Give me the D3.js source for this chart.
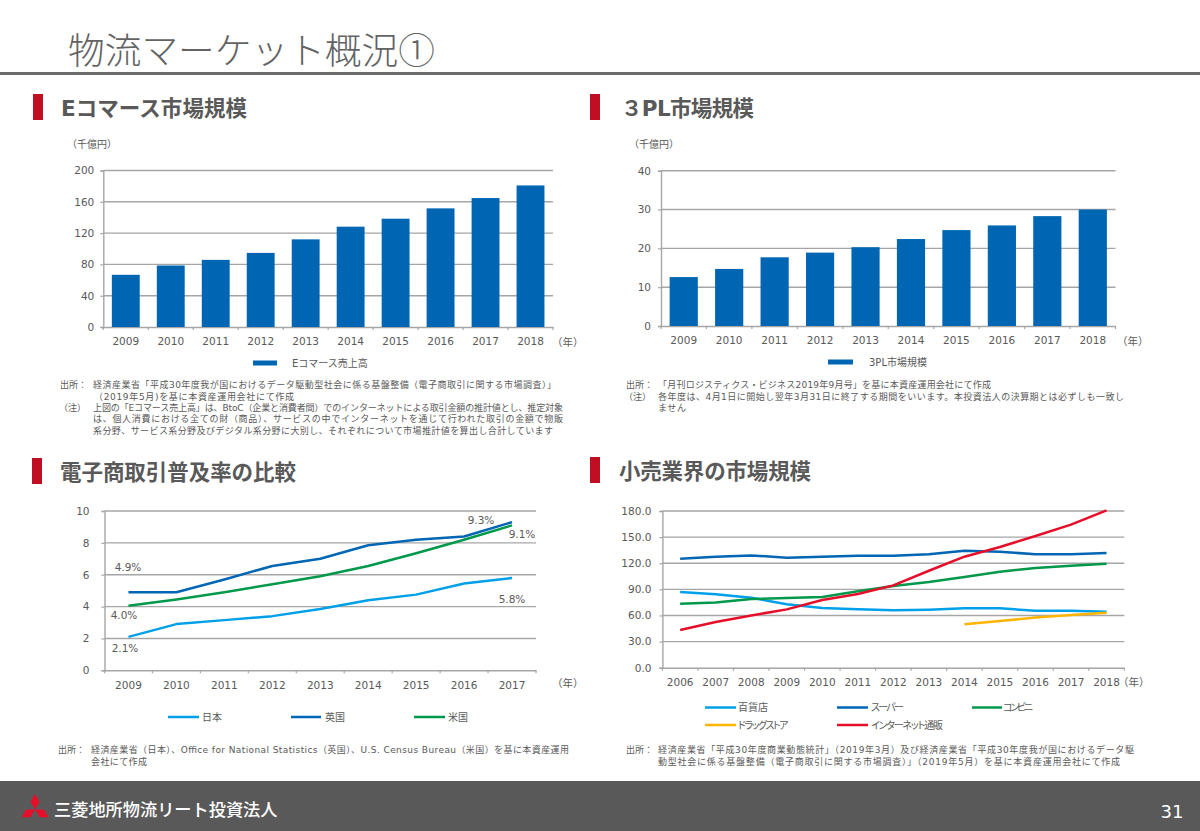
<!DOCTYPE html>
<html lang="ja">
<head>
<meta charset="utf-8">
<title>物流マーケット概況①</title>
<script src="https://cdn.jsdelivr.net/npm/d3@7"></script>
<style>
  html, body { margin: 0; padding: 0; background: #fff; }
  svg { display: block; }
  text { font-family: "DejaVu Sans", "Noto Sans CJK JP", sans-serif; fill: #595959; }
  .palt { font-feature-settings: "palt"; }
</style>
</head>
<body>
<svg id="page" width="1200" height="831"></svg>

<script>
var ecYears = [2009, 2010, 2011, 2012, 2013, 2014, 2015, 2016, 2017, 2018];
var ecSales = [66.7, 78.6, 85.8, 94.7, 112.0, 128.2, 138.4, 151.6, 164.8, 180.9];
var ecTicks = [0, 40, 80, 120, 160, 200];

var plYears = [2009, 2010, 2011, 2012, 2013, 2014, 2015, 2016, 2017, 2018];
var plSales = [12.6, 14.7, 17.7, 18.9, 20.3, 22.4, 24.7, 25.9, 28.3, 30.0];
var plTicks = [0, 10, 20, 30, 40];

var rateYears = [2009, 2010, 2011, 2012, 2013, 2014, 2015, 2016, 2017];
var rateJapan = [2.1, 2.9, 3.15, 3.4, 3.85, 4.4, 4.75, 5.45, 5.8];
var rateUK = [4.9, 4.9, 5.7, 6.55, 7.0, 7.85, 8.2, 8.4, 9.3];
var rateUS = [4.05, 4.45, 4.9, 5.4, 5.9, 6.55, 7.35, 8.2, 9.1];
var rateTicks = [0, 2, 4, 6, 8, 10];

var retailYears = [2006, 2007, 2008, 2009, 2010, 2011, 2012, 2013, 2014, 2015, 2016, 2017, 2018];
var retailDept = [86.9, 84.3, 80.4, 72.8, 68.6, 67.0, 65.9, 66.6, 68.2, 68.2, 65.5, 65.5, 64.3];
var retailSuper = [125.2, 127.5, 129.0, 126.4, 127.5, 128.7, 128.7, 130.2, 134.4, 133.3, 130.2, 130.2, 131.7];
var retailConv = [73.5, 75.0, 78.9, 80.0, 81.2, 87.7, 93.8, 98.4, 104.2, 110.3, 114.5, 117.2, 119.5];
var retailDrug = [null, null, null, null, null, null, null, null, 49.8, 53.6, 57.8, 60.5, 63.2];
var retailNet = [43.3, 52.5, 60.0, 67.0, 77.7, 84.6, 94.6, 111.4, 127.5, 138.6, 151.3, 164.3, 180.8];
var retailTicks = [0, 30, 60, 90, 120, 150, 180];

var BLUE = "#0066b3", SKY = "#00a0e9", GREEN = "#00984a", AMBER = "#ffb500", RED = "#e60f2a";
var INK = "#595959", GRID = "#a6a6a6";

var svg = d3.select("#page");

function label(x, y, str, size, opt) {
  opt = opt || {};
  var t = svg.append("text")
    .attr("x", x).attr("y", y)
    .attr("dominant-baseline", "central")
    .attr("font-size", size)
    .attr("text-anchor", opt.anchor || "start")
    .text(str);
  if (opt.weight) t.attr("font-weight", opt.weight);
  if (opt.fill) t.style("fill", opt.fill);
  if (opt.family) t.style("font-family", opt.family);
  if (opt.palt) t.attr("class", "palt");
  if (opt.width) t.attr("textLength", opt.width);
  return t;
}

// grid, axes and labels shared by all four charts
function frame(x0, x1, yTop, yBase, maxVal, ticks, years, pad, fmt, yPad) {
  var g = svg.append("g");
  var y = d3.scaleLinear().domain([0, maxVal]).range([yBase, yTop]);
  var band = d3.scaleBand().domain(years).range([x0, x1]);

  g.selectAll("line.grid").data(ticks.filter(function(d) { return d > 0; })).enter()
    .append("line")
    .attr("x1", x0).attr("x2", x1)
    .attr("y1", y).attr("y2", y)
    .attr("stroke", GRID).attr("stroke-width", 1.4);

  var yAxis = d3.axisLeft(y).tickValues(ticks).tickSize(3).tickPadding(yPad).tickFormat(fmt);
  var ya = g.append("g").attr("transform", "translate(" + x0 + ",0)").call(yAxis);

  var xAxis = d3.axisBottom(band).tickSize(0).tickPadding(pad);
  var xa = g.append("g").attr("transform", "translate(0," + yBase + ")").call(xAxis);

  // ticks sit on the band edges, not the centres
  var edges = years.map(function(d) { return band(d); }).concat([x1]);
  xa.selectAll("line.edge").data(edges).enter().append("line")
    .attr("x1", function(d) { return d; }).attr("x2", function(d) { return d; })
    .attr("y1", 0).attr("y2", 3)
    .attr("stroke", GRID).attr("stroke-width", 1.2);

  [ya, xa].forEach(function(a) {
    a.selectAll(".domain").attr("stroke", GRID).attr("stroke-width", 1.4);
    a.selectAll(".tick line").attr("stroke", GRID).attr("stroke-width", 1.2);
    a.selectAll("text").attr("font-size", 10.5).attr("font-family", null);
  });
  return { y: y, band: band };
}

function bars(f, years, values) {
  var inner = d3.scaleBand().domain(years).range(f.band.range()).paddingInner(0.38).paddingOuter(0.19);
  svg.append("g").selectAll("rect").data(values).enter().append("rect")
    .attr("x", function(d, i) { return inner(years[i]); })
    .attr("width", inner.bandwidth())
    .attr("y", function(d) { return f.y(d); })
    .attr("height", function(d) { return f.y(0) - f.y(d); })
    .attr("fill", BLUE);
}

function series(f, years, values, color) {
  var x = d3.scalePoint().domain(years).range(f.band.range()).padding(0.5);
  var line = d3.line()
    .defined(function(d) { return d !== null; })
    .x(function(d, i) { return x(years[i]); })
    .y(function(d) { return f.y(d); });
  svg.append("path").datum(values)
    .attr("d", line)
    .attr("fill", "none")
    .attr("stroke", color)
    .attr("stroke-linejoin", "round")
    .attr("stroke-width", 2.5);
}

function swatch(x0, x1, y, color, h) {
  svg.append("line").attr("x1", x0).attr("x2", x1).attr("y1", y).attr("y2", y)
    .attr("stroke", color).attr("stroke-width", h);
}

function heading(markX, y, textX, str, w) {
  svg.append("rect").attr("x", markX).attr("y", y - 13).attr("width", 10).attr("height", 26).attr("fill", "#c00f23");
  label(textX, y + 1, str, 21.5, { weight: 700, width: w });
}

// page header
label(68, 48, "物流マーケット概況①", 36.7, { family: "'Noto Sans CJK JP', sans-serif", weight: 300, fill: "#636363" });
svg.append("rect").attr("x", 0).attr("y", 72).attr("width", 1200).attr("height", 3).attr("fill", "#6b6b6b");

// footer band
svg.append("rect").attr("x", 0).attr("y", 781).attr("width", 1200).attr("height", 50).attr("fill", INK);
var s = 9, cx = 35, cy = 811, r3 = Math.sqrt(3) / 2;
[[[0, 0], [-s / 2, -s * r3], [0, -2 * s * r3], [s / 2, -s * r3]],
 [[0, 0], [s, 0], [s * 1.5, s * r3], [s / 2, s * r3]],
 [[0, 0], [-s, 0], [-s * 1.5, s * r3], [-s / 2, s * r3]]].forEach(function(p) {
  svg.append("polygon")
    .attr("points", p.map(function(q) { return (cx + q[0]) + "," + (cy + q[1] - 1.5); }).join(" "))
    .attr("fill", "#e60f2a");
});
label(54, 810, "三菱地所物流リート投資法人", 17.2, { fill: "#fff", weight: 500 });
label(1172, 811, "31", 18, { anchor: "middle", fill: "#fff" });

// Eコマース市場規模
heading(33, 107, 61, "Eコマース市場規模", 186);
label(67, 144, "（千億円）", 10);
var f1 = frame(103.3, 553, 170.5, 327, 200, ecTicks, ecYears, 11, d3.format("d"), 6);
bars(f1, ecYears, ecSales);
label(552, 342, "（年）", 10.5);
swatch(253, 277, 363, BLUE, 5);
label(292, 363, "Eコマース売上高", 10);
label(60, 385, "出所：", 9);
label(93, 385, "経済産業省「平成30年度我が国におけるデータ駆動型社会に係る基盤整備（電子商取引に関する市場調査）」", 9, { width: 463 });
label(94, 396.5, "（2019年5月)を基に本資産運用会社にて作成", 9, { width: 200 });
label(59, 408, "（注）", 9);
label(93, 408, "上図の「Eコマース売上高」は、BtoC（企業と消費者間）でのインターネットによる取引金額の推計値とし、推定対象", 9, { width: 470 });
label(93, 419, "は、個人消費における全ての財（商品）、サービスの中でインターネットを通じて行われた取引の金額で物販", 9, { width: 470 });
label(93, 430.5, "系分野、サービス系分野及びデジタル系分野に大別し、それぞれについて市場推計値を算出し合計しています", 9, { width: 460 });

// 3PL市場規模
heading(590, 107, 621, "３PL市場規模", 133);
label(629, 144, "（千億円）", 10);
var f2 = frame(661, 1115.5, 170.7, 326, 40, plTicks, plYears, 11, d3.format("d"), 7);
bars(f2, plYears, plSales);
label(1117, 341, "（年）", 10.5);
swatch(828, 853, 362, BLUE, 5);
label(869, 362, "3PL市場規模", 10);
label(626, 385, "出所：", 9);
label(658, 385, "「月刊ロジスティクス・ビジネス2019年9月号」を基に本資産運用会社にて作成", 9, { width: 333 });
label(624, 397, "（注）", 9);
label(658, 397, "各年度は、4月1日に開始し翌年3月31日に終了する期間をいいます。本投資法人の決算期とは必ずしも一致し", 9, { width: 466 });
label(658, 408, "ません", 9, { width: 28 });

// 電子商取引普及率の比較
heading(32, 471, 60, "電子商取引普及率の比較", 236);
var f3 = frame(104.5, 536, 511, 670.3, 10, rateTicks, rateYears, 11, d3.format("d"), 12);
series(f3, rateYears, rateJapan, SKY);
series(f3, rateYears, rateUS, GREEN);
series(f3, rateYears, rateUK, BLUE);
label(552, 683, "（年）", 10.5);
label(481, 520, "9.3%", 10.5, { anchor: "middle" });
label(522, 534, "9.1%", 10.5, { anchor: "middle" });
label(128, 567, "4.9%", 10.5, { anchor: "middle" });
label(124, 615, "4.0%", 10.5, { anchor: "middle" });
label(125, 648, "2.1%", 10.5, { anchor: "middle" });
label(512, 598.5, "5.8%", 10.5, { anchor: "middle" });
swatch(168, 199, 717, SKY, 2.5);
label(202, 717, "日本", 10);
swatch(291, 321, 717, BLUE, 2.5);
label(325, 717, "英国", 10);
swatch(414, 445, 717, GREEN, 2.5);
label(448, 717, "米国", 10);
label(58, 750, "出所：", 9);
label(91, 750, "経済産業省（日本）、Office for National Statistics（英国）、U.S. Census Bureau（米国）を基に本資産運用", 9, { width: 478 });
label(91, 761.5, "会社にて作成", 9, { width: 56 });

// 小売業界の市場規模
heading(590, 470, 619, "小売業界の市場規模", 192);
var f4 = frame(662.4, 1124.3, 511, 667.7, 180, retailTicks, retailYears, 11, d3.format(".1f"), 8);
series(f4, retailYears, retailDept, SKY);
series(f4, retailYears, retailSuper, BLUE);
series(f4, retailYears, retailConv, GREEN);
series(f4, retailYears, retailDrug, AMBER);
series(f4, retailYears, retailNet, RED);
label(1118, 682, "（年）", 10.5);
swatch(705, 736, 707.5, SKY, 2.5);
label(738, 707.5, "百貨店", 10);
swatch(837, 868, 707.5, BLUE, 2.5);
label(871, 707.5, "スーパー", 10, { palt: true, width: 33 });
swatch(972, 1002, 707.5, GREEN, 2.5);
label(1003, 707.5, "コンビニ", 10, { palt: true, width: 30 });
swatch(705, 736, 725, AMBER, 2.5);
label(738, 725, "ドラッグストア", 10, { palt: true, width: 50.5 });
swatch(837, 868, 725, RED, 2.5);
label(871, 725, "インターネット通販", 10, { palt: true, width: 72 });
label(626, 750, "出所：", 9);
label(658, 750, "経済産業省「平成30年度商業動態統計」（2019年3月）及び経済産業省「平成30年度我が国におけるデータ駆", 9, { width: 476 });
label(658, 761.5, "動型社会に係る基盤整備（電子商取引に関する市場調査）」（2019年5月）を基に本資産運用会社にて作成", 9, { width: 462 });
</script>
</body>
</html>
